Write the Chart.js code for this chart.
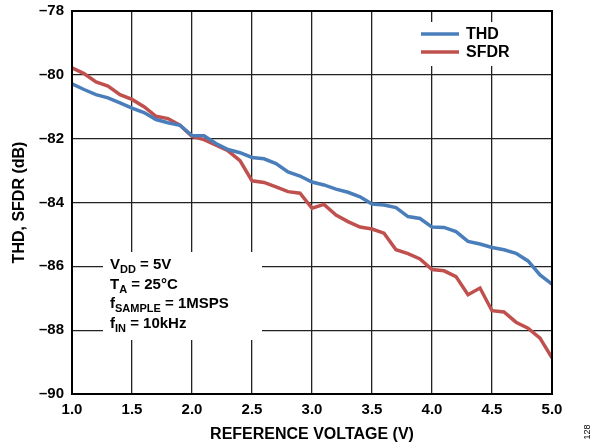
<!DOCTYPE html>
<html>
<head>
<meta charset="UTF-8">
<title>THD, SFDR vs Reference Voltage</title>
<script src="https://cdn.jsdelivr.net/npm/chart.js"></script>
<style>
    body { margin: 0; padding: 0; background: #fff; }
    .wrap { width: 596px; height: 444px; position: relative; }
</style>
</head>
<body>
<div class="wrap"><canvas id="chart" width="596" height="444"></canvas></div>
<script>
// reference voltage (V)
const voltage = [1.0, 1.1, 1.2, 1.3, 1.4, 1.5, 1.6, 1.7, 1.8, 1.9, 2.0,
                 2.1, 2.2, 2.3, 2.4, 2.5, 2.6, 2.7, 2.8, 2.9, 3.0,
                 3.1, 3.2, 3.3, 3.4, 3.5, 3.6, 3.7, 3.8, 3.9, 4.0,
                 4.1, 4.2, 4.3, 4.4, 4.5, 4.6, 4.7, 4.8, 4.9, 5.0];
const thd = [-80.28, -80.46, -80.62, -80.72, -80.88, -81.04, -81.18, -81.40, -81.50, -81.58, -81.90,
             -81.91, -82.15, -82.34, -82.44, -82.59, -82.63, -82.78, -83.04, -83.17, -83.36,
             -83.45, -83.58, -83.68, -83.82, -84.05, -84.08, -84.16, -84.44, -84.50, -84.77,
             -84.78, -84.91, -85.22, -85.30, -85.41, -85.48, -85.59, -85.83, -86.27, -86.56];
const sfdr = [-79.78, -79.96, -80.22, -80.35, -80.62, -80.77, -81.00, -81.30, -81.37, -81.58, -81.93,
              -82.03, -82.20, -82.38, -82.69, -83.32, -83.37, -83.51, -83.66, -83.71, -84.18,
              -84.06, -84.39, -84.60, -84.77, -84.83, -84.96, -85.48, -85.60, -85.77, -86.10,
              -86.14, -86.32, -86.89, -86.68, -87.39, -87.43, -87.75, -87.94, -88.25, -88.87];
const seriesNames = ['THD', 'SFDR'];
const conditions = [
    ['V', 'DD', ' = 5V'],
    ['T', 'A', ' = 25°C'],
    ['f', 'SAMPLE', ' = 1MSPS'],
    ['f', 'IN', ' = 10kHz']
];

const FONT = "'Liberation Sans', Arial, sans-serif";
const blue = '#4a7ebb';
const red = '#c0504d';

function toPoints(ys) {
    return voltage.map((v, i) => ({ x: v, y: ys[i] }));
}

// white boxes with legend + test conditions, drawn over the grid
const overlay = {
    id: 'overlay',
    beforeDatasetsDraw(chart) {
        const ctx = chart.ctx;
        ctx.save();
        ctx.fillStyle = '#fff';
        ctx.fillRect(405, 22, 143, 44);
        ctx.fillRect(103, 252, 159, 88);

        // legend
        ctx.lineWidth = 3.5;
        ctx.font = 'bold 16px ' + FONT;
        ctx.textBaseline = 'middle';
        chart.data.datasets.forEach((ds, i) => {
            const y = 34 + i * 18;
            ctx.strokeStyle = ds.borderColor;
            ctx.beginPath();
            ctx.moveTo(421, y);
            ctx.lineTo(459, y);
            ctx.stroke();
            ctx.fillStyle = '#000';
            ctx.fillText(ds.label, 466, y + 1);
        });

        // conditions
        ctx.fillStyle = '#000';
        ctx.textBaseline = 'alphabetic';
        conditions.forEach((c, i) => {
            let x = 110;
            const y = 269 + i * 19.7;
            ctx.font = 'bold 15px ' + FONT;
            ctx.fillText(c[0], x, y);
            x += ctx.measureText(c[0]).width;
            ctx.font = 'bold 11px ' + FONT;
            ctx.fillText(c[1], x, y + 4);
            x += ctx.measureText(c[1]).width;
            ctx.font = 'bold 15px ' + FONT;
            ctx.fillText(c[2], x, y);
        });
        ctx.restore();
    },
    afterDraw(chart) {
        const { ctx, chartArea: a } = chart;
        ctx.save();
        ctx.strokeStyle = '#000';
        ctx.lineWidth = 2;
        ctx.strokeRect(a.left, a.top, a.right - a.left, a.bottom - a.top);
        // figure number
        ctx.translate(588, 432);
        ctx.rotate(-Math.PI / 2);
        ctx.font = '9px ' + FONT;
        ctx.fillStyle = '#000';
        ctx.textAlign = 'center';
        ctx.textBaseline = 'middle';
        ctx.fillText('128', 0, 0);
        ctx.restore();
    }
};

new Chart(document.getElementById('chart'), {
    type: 'line',
    data: {
        datasets: [
            { label: seriesNames[0], data: toPoints(thd), borderColor: blue, borderWidth: 3.5, pointRadius: 0, tension: 0 },
            { label: seriesNames[1], data: toPoints(sfdr), borderColor: red, borderWidth: 3.5, pointRadius: 0, tension: 0 }
        ]
    },
    options: {
        responsive: false,
        animation: false,
        layout: { padding: { top: 11, right: 44, left: 0, bottom: 0 } },
        plugins: { legend: { display: false }, tooltip: { enabled: false } },
        scales: {
            x: {
                type: 'linear', min: 1, max: 5,
                ticks: {
                    stepSize: 0.5, color: '#000', padding: 7,
                    font: { family: FONT, size: 15, weight: 'bold' },
                    callback: v => v.toFixed(1)
                },
                grid: { color: '#222', lineWidth: 1.3, drawTicks: false },
                border: { color: '#000', width: 2 },
                title: {
                    display: true, text: 'REFERENCE VOLTAGE (V)', color: '#000',
                    font: { family: FONT, size: 16, weight: 'bold' }, padding: { top: 2, bottom: 0 }
                },
                afterFit: s => { s.height = 50; }
            },
            y: {
                min: -90, max: -78,
                ticks: {
                    stepSize: 2, color: '#000', padding: 8,
                    font: { family: FONT, size: 15, weight: 'bold' },
                    callback: v => String(v).replace('-', '\u2013')
                },
                grid: { color: '#222', lineWidth: 1.3, drawTicks: false },
                border: { color: '#000', width: 2 },
                title: {
                    display: true, text: 'THD, SFDR (dB)', color: '#000',
                    font: { family: FONT, size: 16, weight: 'bold' }, padding: { top: 10, bottom: 0 }
                },
                afterFit: s => { s.width = 72; s.paddingTop = 0; s.paddingBottom = 0; }
            }
        }
    },
    plugins: [overlay]
});
</script>
</body>
</html>
